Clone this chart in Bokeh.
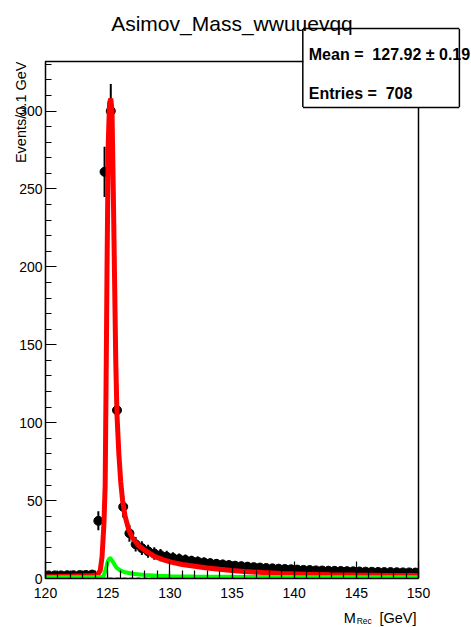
import math
from bokeh.plotting import figure
from bokeh.models import Range1d, Label, FixedTicker, ColumnDataSource
from bokeh.embed import file_html
from bokeh.resources import INLINE

# ---------------- data ----------------
bin_centers = [120.25, 120.75, 121.25, 121.75, 122.25, 122.75, 123.25, 123.75,
               124.25, 124.75, 125.25, 125.75, 126.25, 126.75, 127.25, 127.75,
               128.25, 128.75, 129.25, 129.75, 130.25, 130.75, 131.25, 131.75,
               132.25, 132.75, 133.25, 133.75, 134.25, 134.75, 135.25, 135.75,
               136.25, 136.75, 137.25, 137.75, 138.25, 138.75, 139.25, 139.75,
               140.25, 140.75, 141.25, 141.75, 142.25, 142.75, 143.25, 143.75,
               144.25, 144.75, 145.25, 145.75, 146.25, 146.75, 147.25, 147.75,
               148.25, 148.75, 149.25, 149.75]
bin_half_width = 0.25
data_counts = [2.0, 2.0, 2.0, 2.1, 2.1, 2.2, 2.3, 2.5,
               37, 261, 300, 108, 46, 29, 22, 19.5,
               17.5, 16, 15, 14, 13.2, 12.5, 11.9, 11.3,
               10.8, 10.3, 9.8, 9.4, 9.0, 8.6, 8.2, 7.9,
               7.6, 7.3, 7.0, 6.7, 6.5, 6.3, 6.1, 5.9,
               5.7, 5.5, 5.4, 5.2, 5.1, 5.0, 4.9, 4.8,
               4.7, 4.6, 4.5, 4.4, 4.3, 4.2, 4.1, 4.1,
               4.0, 3.9, 3.9, 3.8]

total_x = [120.0, 121.0, 122.0, 123.0, 123.8, 124.2, 124.4, 124.55, 124.7, 124.8,
           124.9, 124.95, 125.05, 125.15, 125.25, 125.35, 125.45, 125.55, 125.65,
           125.75, 125.9, 126.05, 126.2, 126.4, 126.7, 127.0, 127.5, 128.0, 128.8,
           129.5, 130.1, 131.0, 132.0, 133.0, 134.0, 135.0, 136.0, 137.5, 139.0,
           141.0, 143.0, 145.0, 147.5, 150.0]
total_y = [1.2, 1.3, 1.5, 1.7, 2.0, 2.6, 5, 14, 35, 60,
           150, 200, 280, 305, 308, 300, 250, 195, 140,
           105, 80, 62, 50, 40, 31, 26, 21, 18, 14,
           12, 10.5, 9.0, 7.8, 6.8, 5.9, 5.1, 4.5, 3.8, 3.2,
           2.7, 2.4, 2.2, 2.0, 1.9]

bkg_x = [120.0, 122.0, 124.0, 124.65, 124.85, 125.0, 125.15, 125.25, 125.4, 125.55,
         125.7, 126.0, 126.4, 127.0, 128.0, 129.0, 130.0, 132.0, 135.0, 140.0,
         145.0, 150.0]
bkg_y = [0.8, 0.8, 0.9, 1.0, 6, 11, 13, 12.8, 11, 9,
         7, 5.2, 4.0, 3.0, 2.2, 1.8, 1.5, 1.3, 1.1, 0.9,
         0.8, 0.8]

other_x = [120.0, 150.0]
other_y = [0.2, 0.2]

x_major = [120, 125, 130, 135, 140, 145, 150]
x_minor = list(range(120, 151))
y_major = [0, 50, 100, 150, 200, 250, 300]
y_minor = list(range(0, 331, 10))

title_text = "Asimov_Mass_wwuuevqq"
ytitle = "Events/0.1 GeV"
xtitle_main, xtitle_sub, xtitle_unit = "M", "Rec", "[GeV]"
stats_mean = "Mean = \u00a0127.92 \u00b1 0.19"
stats_entries = "Entries = \u00a0708"

# ---------------- figure ----------------
FONT = "Liberation Sans"
X0, X1, Y0, Y1 = 120.0, 150.0, 0.0, 331.8
FL, FR, FT, FB = 44, 418, 61, 578          # frame edges in canvas pixels
p = figure(width=471, height=627, output_backend="svg", toolbar_location=None,
           x_range=Range1d(X0, X1), y_range=Range1d(Y0, Y1),
           min_border_left=FL, min_border_right=471 - FR, min_border_top=FT,
           min_border_bottom=627 - FB, title=None)
p.background_fill_color = "white"
p.border_fill_color = "white"
p.outline_line_color = None
p.xgrid.visible = False
p.ygrid.visible = False

for ax, major, minor, tin, mtin in ((p.xaxis[0], x_major, x_minor, 17, 8),
                                    (p.yaxis[0], y_major, y_minor, 11, 6)):
    ax.ticker = FixedTicker(ticks=major, minor_ticks=minor)
    ax.major_tick_in = tin
    ax.major_tick_out = 0
    ax.minor_tick_in = mtin
    ax.minor_tick_out = 0
    ax.axis_line_color = "black"
    ax.axis_line_width = 1.5
    ax.major_tick_line_width = 1.2
    ax.minor_tick_line_width = 1.2
    ax.major_label_text_font = FONT
    ax.major_label_text_font_size = "14px"
    ax.major_label_text_color = "black"
p.xaxis[0].major_label_standoff = 9
p.yaxis[0].major_label_standoff = 3

# data points with error bars
err = [math.sqrt(v) for v in data_counts]
src = ColumnDataSource(dict(
    x=bin_centers, y=data_counts,
    y0=[v - e for v, e in zip(data_counts, err)],
    y1=[v + e for v, e in zip(data_counts, err)],
    x0=[c - bin_half_width for c in bin_centers],
    x1=[c + bin_half_width for c in bin_centers]))
p.segment(x0="x", y0="y0", x1="x", y1="y1", source=src, line_color="black", line_width=2)
p.segment(x0="x0", y0="y", x1="x1", y1="y", source=src, line_color="black", line_width=2)
p.scatter(x="x", y="y", source=src, marker="circle", size=9,
          fill_color="black", line_color="black")

# curves
p.line(other_x, other_y, line_color="#66aa88", line_width=2, line_dash="4 3")
p.line(total_x, total_y, line_color="#ff0000", line_width=5)
p.line(bkg_x, bkg_y, line_color="#00ff00", line_width=4)

# ---------------- things outside the frame ----------------
# Labels hosted in side panels are not clipped to the frame; with data units
# they are placed through the plot's own scales.
def dx(cx):
    return X0 + (cx - FL) * (X1 - X0) / (FR - FL)

def dy(cy):
    return Y0 + (FB - cy) * (Y1 - Y0) / (FB - FT)

def lab(side, cx, cy, text, size, align="left", baseline="alphabetic", **kw):
    l = Label(x=dx(cx), y=dy(cy), text=text, text_font=FONT, text_font_size=size,
              text_align=align, text_baseline=baseline, text_color="black", **kw)
    p.add_layout(l, side)

# above panel: horizontal texts (panel thickness = text height)
lab("above", 231, 23.3, title_text, "21px", align="center")
lab("above", 308, 53.5, stats_mean, "16px", text_font_style="bold")
lab("above", 308, 93.3, stats_entries, "16px", text_font_style="bold")
# below panel
lab("below", 416, 617, xtitle_unit, "14.5px", align="right")
# right panel: narrow texts (panel thickness = text width)
lab("right", 343, 617, xtitle_main, "14.5px")
lab("right", 356, 620, xtitle_sub, "8.5px")
# left panel: rotated axis title
lab("left", 19, 61, ytitle, "14.5px", align="right", baseline="middle", angle=math.pi / 2)

# thin black strips: frame top / right edges and the stats box outline
def hstrip(cx0, cx1, cy):
    l = Label(x=dx((cx0 + cx1) / 2), y=dy(cy), text=" ", text_font=FONT,
              text_font_size="1.3px", text_align="center", text_baseline="middle",
              padding=(int(round((cx1 - cx0) / 2)), 0),
              background_fill_color="black", background_fill_alpha=1.0)
    p.add_layout(l, "below")

def vstrip(cx, cy0, cy1):
    l = Label(x=dx(cx), y=dy((cy0 + cy1) / 2), text=" ", text_font=FONT,
              text_font_size="5.4px", text_align="center", text_baseline="middle",
              padding=(0, int(round((cy1 - cy0 - 6.2) / 2))),
              background_fill_color="black", background_fill_alpha=1.0)
    p.add_layout(l, "right")

hstrip(FL, 302, FT)        # frame top (left of the box)
hstrip(302, 459, 28)       # box top
hstrip(302, 459, 107)      # box bottom
vstrip(FR, 107, FB)        # frame right (below the box)
vstrip(302, 28, 107)       # box left
vstrip(459, 28, 107)       # box right

open("out.html", "w").write(file_html(p, INLINE))
